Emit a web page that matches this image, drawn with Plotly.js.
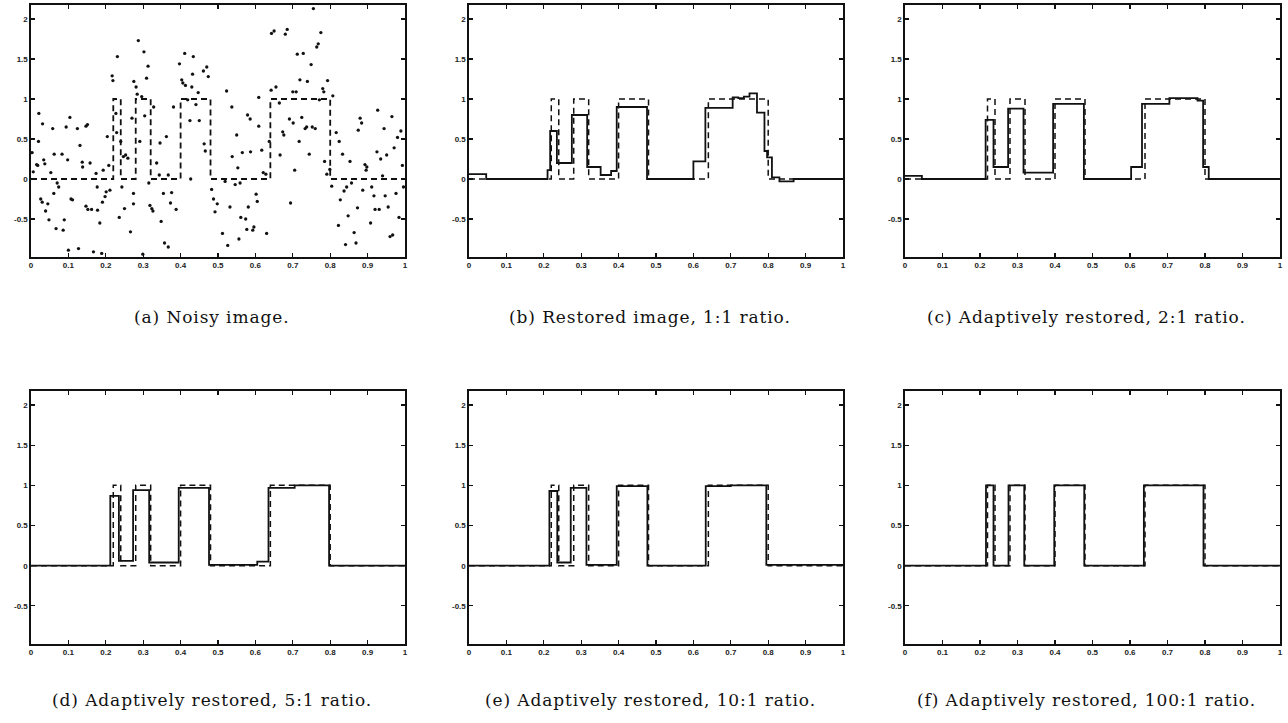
<!DOCTYPE html>
<html>
<head>
<meta charset="utf-8">
<script src="https://cdn.plot.ly/plotly-3.0.1.min.js"></script>
<style>html,body{margin:0;padding:0;background:#fff;}#chart{width:1288px;height:723px;}
.annotation-text{letter-spacing:0.9px;}</style>
</head>
<body>
<div id="chart"></div>
<script>
// True (original) signal, drawn dashed: breakpoints and step values
const trueX = [0, 0.22, 0.24, 0.28, 0.32, 0.40, 0.48, 0.64, 0.80, 1];
const trueY = [0, 1, 0, 1, 0, 1, 0, 1, 0, 0];

// (a) noisy samples
const noisyX = [0.003,0.006,0.015,0.018,0.020,0.021,0.031,0.026,0.030,0.034,0.037,0.039,0.045,0.048,0.053,0.058,0.061,0.062,0.067,0.070,
0.074,0.083,0.086,0.089,0.094,0.098,0.100,0.104,0.107,0.111,0.124,0.127,0.131,0.137,0.138,0.147,0.151,0.147,0.152,0.158,
0.162,0.167,0.174,0.177,0.178,0.184,0.189,0.191,0.193,0.198,0.201,0.204,0.208,0.211,0.217,0.219,0.227,0.229,0.231,0.236,
0.240,0.243,0.247,0.250,0.253,0.259,0.266,0.270,0.274,0.274,0.275,0.281,0.284,0.287,0.291,0.296,0.299,0.302,0.304,0.309,
0.313,0.315,0.318,0.323,0.326,0.328,0.336,0.343,0.345,0.348,0.354,0.357,0.367,0.362,0.367,0.373,0.376,0.381,0.388,0.397,
0.403,0.406,0.413,0.411,0.419,0.425,0.427,0.430,0.434,0.432,0.441,0.447,0.450,0.461,0.470,0.474,0.463,0.466,0.483,0.488,
0.492,0.498,0.512,0.519,0.523,0.526,0.532,0.537,0.538,0.546,0.550,0.553,0.556,0.559,0.561,0.565,0.574,0.577,0.579,0.586,
0.587,0.581,0.593,0.596,0.602,0.605,0.609,0.609,0.617,0.621,0.628,0.630,0.637,0.642,0.643,0.650,0.655,0.664,0.666,0.673,
0.676,0.680,0.685,0.691,0.694,0.700,0.701,0.705,0.709,0.712,0.717,0.719,0.724,0.728,0.733,0.737,0.739,0.744,0.749,0.752,
0.755,0.760,0.764,0.768,0.771,0.775,0.780,0.783,0.785,0.791,0.793,0.799,0.804,0.807,0.816,0.822,0.824,0.827,0.833,0.837,
0.841,0.844,0.848,0.853,0.857,0.864,0.869,0.873,0.875,0.880,0.884,0.887,0.893,0.896,0.898,0.908,0.911,0.917,0.920,0.925,
0.927,0.931,0.935,0.940,0.944,0.947,0.951,0.955,0.960,0.965,0.967,0.971,0.976,0.980,0.984,0.989,0.993,0.996];
const noisyY = [0.33,0.09,0.18,0.17,0.47,0.82,0.69,-0.25,-0.29,0.24,0.19,-0.40,-0.31,-0.51,0.08,0.63,-0.18,0.31,-0.62,-0.05,
-0.10,0.31,-0.64,-0.51,0.65,0.24,-0.89,0.77,-0.25,-0.26,0.63,-0.87,0.42,0.21,0.15,0.66,0.68,-0.34,-0.38,0.20,
-0.38,-0.91,0.07,-0.10,-0.39,-0.55,-0.93,-0.29,0.11,-0.22,-0.16,0.53,0.17,-0.14,1.29,1.23,0.82,0.58,1.53,-0.48,
0.47,-0.10,0.28,-0.37,0.30,0.26,-0.66,0.76,-0.31,-0.18,1.22,1.15,1.06,1.73,0.47,1.03,-0.94,1.59,0.79,1.26,
1.41,-0.05,-0.33,-0.37,-0.40,0.90,0.20,0.05,0.45,-0.53,-0.18,-0.80,-0.85,0.53,0.05,-0.30,-0.17,0.90,-0.38,1.44,
1.24,1.20,1.17,1.57,0.99,0.73,0.00,1.15,1.53,1.31,0.93,1.08,0.73,1.35,1.40,1.28,0.44,0.35,-0.13,-0.25,
-0.41,-0.31,-0.68,-0.03,1.10,-0.83,-0.35,0.90,0.28,-0.07,0.55,0.14,-0.75,-0.05,-0.48,0.33,-0.50,-0.63,0.80,0.75,
0.34,-0.35,-0.64,-0.60,-0.19,-0.28,0.66,1.02,0.36,0.08,0.06,-0.68,0.47,1.11,1.82,1.85,1.15,0.95,0.30,0.59,
0.55,1.81,1.87,0.75,-0.30,1.09,0.70,0.11,1.09,1.56,0.47,1.24,0.77,1.57,0.63,0.65,1.22,0.31,1.43,0.65,
2.13,0.63,1.65,1.69,0.99,1.83,1.13,1.09,0.22,0.06,1.23,0.12,-0.09,1.04,0.58,-0.58,0.47,-0.26,0.31,-0.15,
-0.82,-0.10,-0.46,0.22,-0.05,-0.67,-0.80,-0.36,0.61,0.76,0.70,-0.14,0.18,0.11,0.15,-0.55,-0.10,-0.21,-0.38,0.34,
0.86,-0.38,0.25,0.04,0.63,-0.21,0.30,-0.35,-0.72,0.78,-0.70,0.39,-0.18,0.52,-0.48,0.60,0.17,-0.10];

// Restored signals (step breakpoints and values)
const restBx = [0,0.046,0.21,0.217,0.235,0.275,0.316,0.352,0.38,0.395,0.476,0.600,0.632,0.705,0.72,0.735,0.75,0.77,0.79,0.797,0.81,0.83,0.868,1];
const restBy = [0.06,0,0.11,0.6,0.2,0.8,0.15,0.05,0.1,0.9,0,0.22,0.89,1.02,1.01,1.03,1.07,0.83,0.35,0.27,0.02,-0.03,0,0];
const restCx = [0,0.045,0.215,0.236,0.275,0.316,0.395,0.477,0.603,0.632,0.705,0.78,0.795,0.81,1];
const restCy = [0.04,0,0.74,0.15,0.88,0.08,0.94,0,0.15,0.94,1.01,0.98,0.15,0,0];
const restDx = [0,0.212,0.235,0.273,0.316,0.395,0.476,0.605,0.635,0.705,0.797,1];
const restDy = [0,0.87,0.06,0.94,0.04,0.97,0.01,0.05,0.97,1.0,0,0];
const restEx = [0,0.215,0.236,0.272,0.314,0.395,0.477,0.633,0.70,0.795,1];
const restEy = [0,0.93,0.04,0.97,0.01,0.99,0,0.99,1.0,0.01,0.01];
const restFx = [0,0.216,0.236,0.276,0.318,0.398,0.478,0.637,0.796,1];
const restFy = [0,1,0,1,0,1,0,1,0,0];

const xTicks = [0,0.1,0.2,0.3,0.4,0.5,0.6,0.7,0.8,0.9,1];
const xTickText = ["0","0.1","0.2","0.3","0.4","0.5","0.6","0.7","0.8","0.9","1"];
const yTicks = [-0.5,0,0.5,1,1.5,2];
const yTickText = ["-0.5","0","0.5","1","1.5","2"];

const captions = ["(a) Noisy image.","(b) Restored image, 1:1 ratio.","(c) Adaptively restored, 2:1 ratio.",
  "(d) Adaptively restored, 5:1 ratio.","(e) Adaptively restored, 10:1 ratio.","(f) Adaptively restored, 100:1 ratio."];

const W = 1288, H = 723;
const cols = [[31,405],[469,843],[905,1280]];
const rows = [[5,257],[391,644]];

const restored = [null,[restBx,restBy],[restCx,restCy],[restDx,restDy],[restEx,restEy],[restFx,restFy]];

const data = [];
const layout = {
  width: W, height: H, margin:{l:0,r:0,t:0,b:0},
  paper_bgcolor:'#fff', plot_bgcolor:'#fff', showlegend:false,
  annotations: []
};
for (let i=0;i<6;i++){
  const r = Math.floor(i/3), c = i%3;
  const sx = i===0 ? '' : String(i+1);
  const xa = 'x'+sx, ya = 'y'+sx;
  const dom = cols[c], rw = rows[r];
  layout['xaxis'+sx] = {
    domain:[dom[0]/W, dom[1]/W], anchor: ya, range:[0,1],
    tickvals:xTicks, ticktext:xTickText, ticks:'inside', ticklen:4, tickwidth:1.2, tickcolor:'#111',
    showline:true, mirror:'ticks', linecolor:'#111', linewidth:1.6, showgrid:false, zeroline:false,
    tickfont:{family:'Liberation Sans, Arial, sans-serif', size:8, color:'#222', weight:'bold'}
  };
  layout['yaxis'+sx] = {
    domain:[1-rw[1]/H, 1-rw[0]/H], anchor: xa, range:[-0.975,2.175],
    tickvals:yTicks, ticktext:yTickText, ticks:'inside', ticklen:4, tickwidth:1.2, tickcolor:'#111',
    showline:true, mirror:'ticks', linecolor:'#111', linewidth:1.6, showgrid:false, zeroline:false,
    tickfont:{family:'Liberation Sans, Arial, sans-serif', size:8, color:'#222', weight:'bold'}
  };
  if (i===0){
    data.push({x:trueX, y:trueY, xaxis:xa, yaxis:ya, type:'scatter', mode:'lines',
      line:{shape:'hv', color:'#111', width:1.8, dash:'6px,4px'}, hoverinfo:'skip'});
    data.push({x:noisyX, y:noisyY, xaxis:xa, yaxis:ya, type:'scatter', mode:'markers',
      marker:{size:3.3, color:'#111'}, hoverinfo:'skip'});
  } else {
    data.push({x:trueX, y:trueY, xaxis:xa, yaxis:ya, type:'scatter', mode:'lines',
      line:{shape:'hv', color:'#111', width:1.5, dash:'6px,4px'}, hoverinfo:'skip'});
    data.push({x:restored[i][0], y:restored[i][1], xaxis:xa, yaxis:ya, type:'scatter', mode:'lines',
      line:{shape:'hv', color:'#111', width:1.8}, hoverinfo:'skip'});
  }
  const capY = r===0 ? 317 : 700;
  layout.annotations.push({text:captions[i], xref:'paper', yref:'paper',
    x:((dom[0]+dom[1])/2 - 6)/W, y:1-capY/H, xanchor:'center', yanchor:'middle', showarrow:false,
    font:{family:'DejaVu Serif, serif', size:17, color:'#111'}});
}
Plotly.newPlot('chart', data, layout, {staticPlot:true});
</script>
</body>
</html>
